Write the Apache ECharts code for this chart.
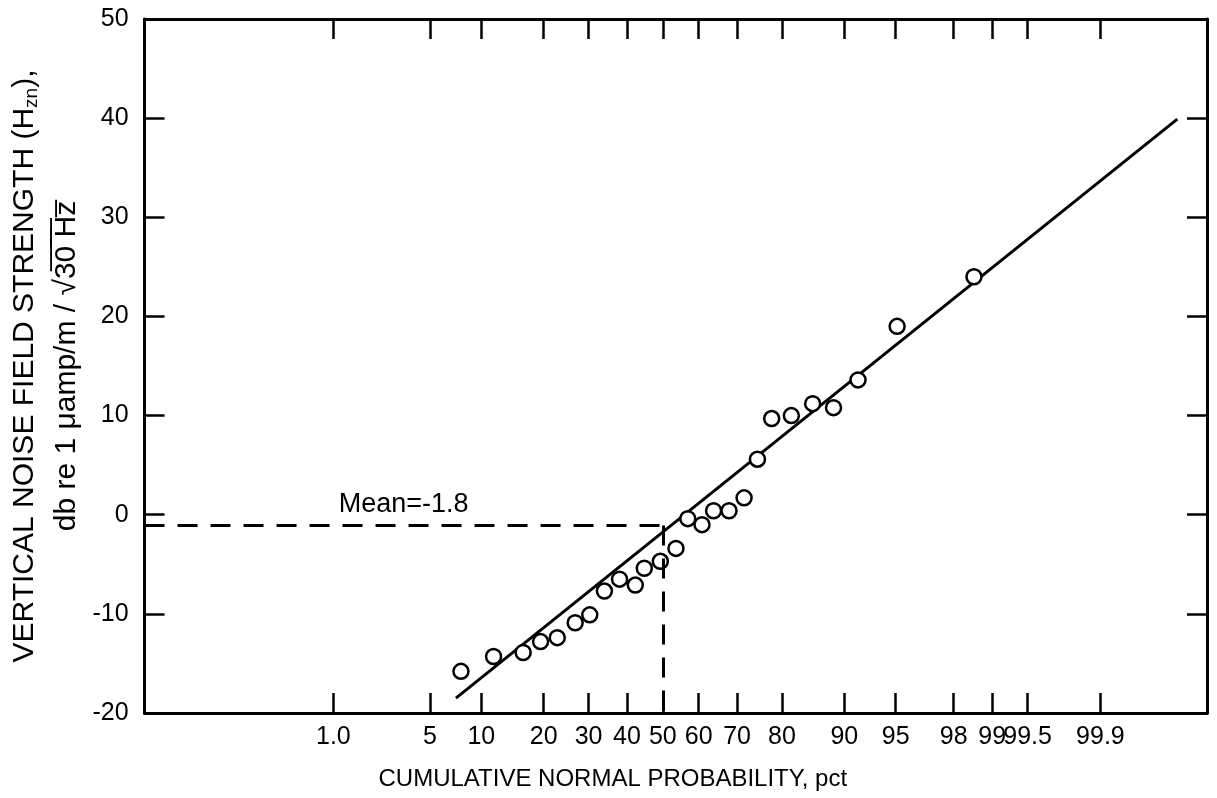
<!DOCTYPE html>
<html>
<head>
<meta charset="utf-8">
<title>Vertical noise field strength</title>
<script src="https://cdn.jsdelivr.net/npm/echarts@6/dist/echarts.min.js"></script>
<style>
  html, body { margin: 0; padding: 0; background: #fff; }
  #chart { width: 1217px; height: 798px; }
</style>
</head>
<body>
<div id="chart"></div>
<script>
// probability-paper ticks (cumulative normal probability, pct)
var probTicks = [1.0, 5, 10, 20, 30, 40, 50, 60, 70, 80, 90, 95, 98, 99, 99.5, 99.9];
var probTickText = ['1.0', '5', '10', '20', '30', '40', '50', '60', '70', '80', '90', '95', '98', '99', '99.5', '99.9'];

// observed points: cumulative probability (pct) and field strength (db)
var pointPct = [7.7, 11.6, 16.2, 19.4, 22.8, 26.8, 30.3, 34.0, 38.0, 42.3, 44.8, 49.3, 53.7,
                57.0, 60.9, 64.0, 68.0, 71.7, 74.8, 77.9, 81.8, 85.5, 88.6, 91.6, 95.1, 98.6];
var pointDb = [-15.8, -14.3, -13.9, -12.8, -12.4, -10.9, -10.1, -7.7, -6.5, -7.1, -5.4, -4.7, -3.4,
               -0.4, -1.0, 0.4, 0.4, 1.7, 5.6, 9.7, 10.0, 11.2, 10.8, 13.6, 19.0, 24.0];

// fitted straight line, two ends
var fitPct = [7.2, 99.986];
var fitDb = [-18.5, 39.9];

// mean guide (dashed), as drawn
var meanDb = -1.1;
var meanPct = 50;
var meanText = 'Mean=-1.8';

var yMin = -20, yMax = 50, yStep = 10;

// inverse normal cdf (Acklam)
function probit(p) {
  var a = [-3.969683028665376e+01, 2.209460984245205e+02, -2.759285104469687e+02, 1.383577518672690e+02, -3.066479806614716e+01, 2.506628277459239e+00];
  var b = [-5.447609879822406e+01, 1.615858368580409e+02, -1.556989798598866e+02, 6.680131188771972e+01, -1.328068155288572e+01];
  var c = [-7.784894002430293e-03, -3.223964580411365e-01, -2.400758277161838e+00, -2.549732539343734e+00, 4.374664141464968e+00, 2.938163982698783e+00];
  var d = [7.784695709041462e-03, 3.224671290700398e-01, 2.445134137142996e+00, 3.754408661907416e+00];
  var pl = 0.02425, q, r;
  if (p < pl) {
    q = Math.sqrt(-2 * Math.log(p));
    return (((((c[0]*q+c[1])*q+c[2])*q+c[3])*q+c[4])*q+c[5]) / ((((d[0]*q+d[1])*q+d[2])*q+d[3])*q+1);
  }
  if (p > 1 - pl) {
    q = Math.sqrt(-2 * Math.log(1 - p));
    return -(((((c[0]*q+c[1])*q+c[2])*q+c[3])*q+c[4])*q+c[5]) / ((((d[0]*q+d[1])*q+d[2])*q+d[3])*q+1);
  }
  q = p - 0.5; r = q * q;
  return (((((a[0]*r+a[1])*r+a[2])*r+a[3])*r+a[4])*r+a[5])*q / (((((b[0]*r+b[1])*r+b[2])*r+b[3])*r+b[4])*r+1);
}
function z(pct) { return probit(pct / 100); }

var xMin = -3.66, xMax = 3.843;
var tickZ = probTicks.map(z);
var font = '"Liberation Sans", Arial, sans-serif';

function tickLabel(v) {
  for (var i = 0; i < tickZ.length; i++) {
    if (Math.abs(tickZ[i] - v) < 1e-6) return probTickText[i];
  }
  return '';
}

var points = pointPct.map(function (p, i) { return [z(p), pointDb[i]]; });
var fit = fitPct.map(function (p, i) { return [z(p), fitDb[i]]; });

var tickStyle = { inside: true, length: 20, lineStyle: { color: '#000', width: 2.5 } };
var lineStyle = { color: '#000', width: 3 };
var frameLine = { show: true, onZero: false, lineStyle: lineStyle };

var option = {
  animation: false,
  backgroundColor: '#fff',
  grid: { left: 143, right: 10, top: 19, bottom: 85 },
  xAxis: [{
    type: 'value', min: xMin, max: xMax, position: 'bottom',
    axisLine: frameLine,
    axisTick: Object.assign({ customValues: tickZ }, tickStyle),
    axisLabel: {
      customValues: tickZ, formatter: tickLabel,
      color: '#000', fontSize: 25, margin: 12, fontFamily: font
    },
    splitLine: { show: false },
    name: 'CUMULATIVE NORMAL PROBABILITY, pct',
    nameLocation: 'middle', nameGap: 54,
    nameTextStyle: { color: '#000', fontSize: 24, fontFamily: font, padding: [0, 126, 0, 0] }
  }, {
    type: 'value', min: xMin, max: xMax, position: 'top',
    axisLine: frameLine,
    axisTick: Object.assign({ customValues: tickZ }, tickStyle),
    axisLabel: { show: false },
    splitLine: { show: false }
  }],
  yAxis: [{
    type: 'value', min: yMin, max: yMax, interval: yStep, position: 'left',
    axisLine: frameLine,
    axisTick: tickStyle,
    axisLabel: { color: '#000', fontSize: 25, margin: 16, fontFamily: font },
    splitLine: { show: false },
    name: '{a|VERTICAL NOISE FIELD STRENGTH (H}{s|zn}{a|),}\n{a|db re 1 \u03bcamp/m / \u221a3\u03050\u0305 \u0305H\u0305z\u0305}',
    nameLocation: 'middle', nameRotate: 90, nameGap: 55,
    nameTextStyle: {
      color: '#000', fontFamily: font,
      rich: {
        a: { fontSize: 30, lineHeight: 42, color: '#000', fontFamily: font },
        s: { fontSize: 19, lineHeight: 42, color: '#000', fontFamily: font, padding: [14, 0, 0, 0] }
      }
    }
  }, {
    type: 'value', min: yMin, max: yMax, interval: yStep, position: 'right',
    axisLine: frameLine,
    axisTick: tickStyle,
    axisLabel: { show: false },
    splitLine: { show: false }
  }],
  series: [{
    type: 'line',
    data: fit,
    symbol: 'none',
    lineStyle: lineStyle,
    z: 2,
    markLine: {
      silent: true,
      symbol: ['none', 'none'],
      lineStyle: { color: '#000', width: 3, type: [20, 13] },
      data: [
        [{ coord: [xMin, meanDb], label: { show: true, formatter: meanText, position: 'insideMiddleTop',
             distance: 8, color: '#000', fontSize: 27, fontFamily: font } },
         { coord: [z(meanPct), meanDb] }],
        [{ coord: [z(meanPct), meanDb], label: { show: false } }, { coord: [z(meanPct), yMin] }]
      ]
    }
  }, {
    type: 'scatter',
    data: points,
    symbol: 'circle',
    symbolSize: 15,
    itemStyle: { color: '#fff', borderColor: '#000', borderWidth: 2.5, opacity: 1 },
    z: 3
  }]
};

var chart = echarts.init(document.getElementById('chart'));
chart.setOption(option);
</script>
</body>
</html>
